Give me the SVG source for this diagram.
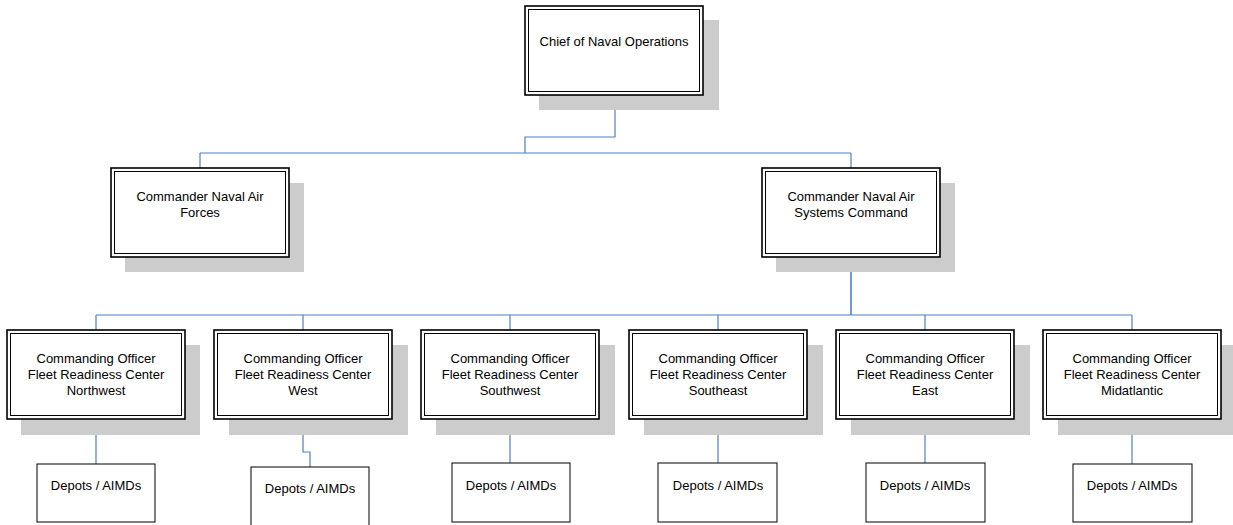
<svg xmlns="http://www.w3.org/2000/svg" width="1233" height="525" viewBox="0 0 1233 525">
<style>
.shadow{fill:#cccccc;stroke:none}
.outer{fill:#ffffff;stroke:#000000;stroke-width:1.6}
.inner{fill:none;stroke:#000000;stroke-width:1}
.box{fill:#ffffff;stroke:#000000;stroke-width:1}
.conn{fill:none;stroke:#4F7FC9;stroke-width:1.2}
text{font-family:"Liberation Sans",Arial,sans-serif;font-size:13px;fill:#000000;text-anchor:middle}
</style>
<rect width="1233" height="525" fill="#ffffff"/>
<g id="connectors">
<path class="conn" d="M615,95 V137 H525 V153"/>
<path class="conn" d="M200,153 H851"/>
<path class="conn" d="M200,153 V168"/>
<path class="conn" d="M851,153 V168"/>
<path class="conn" d="M851,257 V315" style="stroke-width:1.6"/>
<path class="conn" d="M96,315 H1132"/>
<path class="conn" d="M96,315 V330"/>
<path class="conn" d="M303,315 V330"/>
<path class="conn" d="M510,315 V330"/>
<path class="conn" d="M718,315 V330"/>
<path class="conn" d="M925,315 V330"/>
<path class="conn" d="M1132,315 V330"/>
<path class="conn" d="M96,419 V464"/>
<path class="conn" d="M303,419 V452 H310 V467"/>
<path class="conn" d="M510,419 V463"/>
<path class="conn" d="M718,419 V463"/>
<path class="conn" d="M925,419 V463"/>
<path class="conn" d="M1132,419 V464"/>
</g>
<g id="cno">
<rect class="shadow" x="539" y="20" width="180" height="90"/>
<rect class="outer" x="525" y="6" width="178" height="89"/>
<rect class="inner" x="528.5" y="9.5" width="171" height="82"/>
<text x="614" y="45.5">Chief of Naval Operations</text>
</g>
<g id="cnaf">
<rect class="shadow" x="125" y="183" width="179" height="89"/>
<rect class="outer" x="111" y="168" width="178" height="89"/>
<rect class="inner" x="114.5" y="171.5" width="171" height="82"/>
<text x="200" y="200.5">Commander Naval Air</text>
<text x="200" y="216.5">Forces</text>
</g>
<g id="navair">
<rect class="shadow" x="776" y="183" width="179" height="89"/>
<rect class="outer" x="762" y="168" width="178" height="89"/>
<rect class="inner" x="765.5" y="171.5" width="171" height="82"/>
<text x="851" y="200.5">Commander Naval Air</text>
<text x="851" y="216.5">Systems Command</text>
</g>
<g id="frc-nw">
<rect class="shadow" x="21" y="345" width="179" height="90"/>
<rect class="outer" x="7" y="330" width="178" height="89"/>
<rect class="inner" x="10.5" y="333.5" width="171" height="82"/>
<text x="96" y="362.5">Commanding Officer</text>
<text x="96" y="378.5">Fleet Readiness Center</text>
<text x="96" y="394.5">Northwest</text>
</g>
<g id="frc-w">
<rect class="shadow" x="229" y="345" width="179" height="90"/>
<rect class="outer" x="214" y="330" width="178" height="89"/>
<rect class="inner" x="217.5" y="333.5" width="171" height="82"/>
<text x="303" y="362.5">Commanding Officer</text>
<text x="303" y="378.5">Fleet Readiness Center</text>
<text x="303" y="394.5">West</text>
</g>
<g id="frc-sw">
<rect class="shadow" x="436" y="345" width="179" height="90"/>
<rect class="outer" x="421" y="330" width="178" height="89"/>
<rect class="inner" x="424.5" y="333.5" width="171" height="82"/>
<text x="510" y="362.5">Commanding Officer</text>
<text x="510" y="378.5">Fleet Readiness Center</text>
<text x="510" y="394.5">Southwest</text>
</g>
<g id="frc-se">
<rect class="shadow" x="644" y="345" width="179" height="90"/>
<rect class="outer" x="629" y="330" width="178" height="89"/>
<rect class="inner" x="632.5" y="333.5" width="171" height="82"/>
<text x="718" y="362.5">Commanding Officer</text>
<text x="718" y="378.5">Fleet Readiness Center</text>
<text x="718" y="394.5">Southeast</text>
</g>
<g id="frc-e">
<rect class="shadow" x="851" y="345" width="179" height="90"/>
<rect class="outer" x="836" y="330" width="178" height="89"/>
<rect class="inner" x="839.5" y="333.5" width="171" height="82"/>
<text x="925" y="362.5">Commanding Officer</text>
<text x="925" y="378.5">Fleet Readiness Center</text>
<text x="925" y="394.5">East</text>
</g>
<g id="frc-ma">
<rect class="shadow" x="1058" y="345" width="179" height="90"/>
<rect class="outer" x="1043" y="330" width="178" height="89"/>
<rect class="inner" x="1046.5" y="333.5" width="171" height="82"/>
<text x="1132" y="362.5">Commanding Officer</text>
<text x="1132" y="378.5">Fleet Readiness Center</text>
<text x="1132" y="394.5">Midatlantic</text>
</g>
<g id="depots-nw">
<rect class="box" x="37" y="464" width="118" height="58"/>
<text x="96" y="489.5">Depots / AIMDs</text>
</g>
<g id="depots-w">
<rect class="box" x="251" y="467" width="118" height="62"/>
<text x="310" y="492.5">Depots / AIMDs</text>
</g>
<g id="depots-sw">
<rect class="box" x="452" y="463" width="118" height="59"/>
<text x="511" y="489.5">Depots / AIMDs</text>
</g>
<g id="depots-se">
<rect class="box" x="658" y="463" width="119" height="59"/>
<text x="718" y="489.5">Depots / AIMDs</text>
</g>
<g id="depots-e">
<rect class="box" x="866" y="463" width="119" height="59"/>
<text x="925" y="489.5">Depots / AIMDs</text>
</g>
<g id="depots-ma">
<rect class="box" x="1073" y="464" width="119" height="58"/>
<text x="1132" y="489.5">Depots / AIMDs</text>
</g>
</svg>
